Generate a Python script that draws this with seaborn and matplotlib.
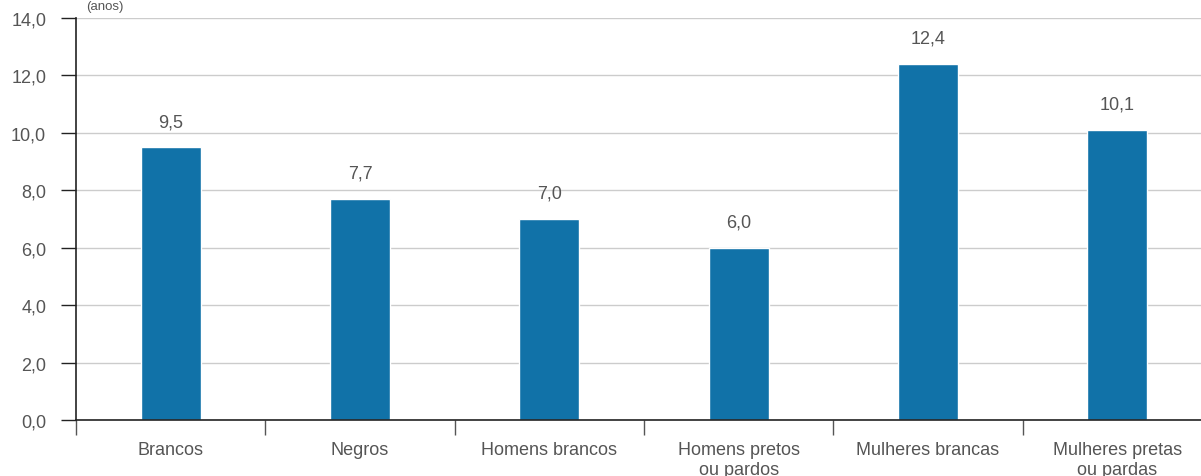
import matplotlib
matplotlib.use("Agg")
import matplotlib.pyplot as plt
from matplotlib.ticker import FixedLocator
import seaborn as sns
import pandas as pd

categorias = ["Brancos", "Negros", "Homens brancos", "Homens pretos\nou pardos",
              "Mulheres brancas", "Mulheres pretas\nou pardas"]
anos = [9.5, 7.7, 7.0, 6.0, 12.4, 10.1]
rotulos = ["9,5", "7,7", "7,0", "6,0", "12,4", "10,1"]
y_ticks = [0, 2, 4, 6, 8, 10, 12, 14]
y_tick_labels = ["0,0", "2,0", "4,0", "6,0", "8,0", "10,0", "12,0", "14,0"]

sns.set_style("white")
plt.rcParams["font.family"] = ["Liberation Sans", "DejaVu Sans"]

texto = "#555555"
azul = "#1172a8"
fs = 13

fig = plt.figure(figsize=(12.01, 4.77), dpi=100)
ax = fig.add_axes([76 / 1201, 56 / 477, 1136 / 1201, 402 / 477])

df = pd.DataFrame({"categoria": categorias, "anos": anos})
sns.barplot(data=df, x="categoria", y="anos", color=azul, saturation=1,
            width=0.317, ax=ax)

ax.set_xlim(-0.5, len(categorias) - 0.5)
ax.set_ylim(0, 14)
ax.set_yticks(y_ticks)
ax.set_yticklabels(y_tick_labels)
ax.set_xlabel("")
ax.set_ylabel("")

ax.yaxis.grid(True, color="#cccccc", linewidth=1)
ax.set_axisbelow(True)

for s in ["top", "right"]:
    ax.spines[s].set_visible(False)
for s in ["left", "bottom"]:
    ax.spines[s].set_color("#222222")
    ax.spines[s].set_linewidth(1.2)

ax.tick_params(axis="y", direction="out", length=10.5, width=1, color="#222222",
               labelsize=fs, labelcolor=texto, pad=11, left=True)
ax.tick_params(axis="x", which="major", length=0, pad=15, labelsize=fs,
               labelcolor=texto)
ax.xaxis.set_minor_locator(FixedLocator([i - 0.5 for i in range(len(categorias) + 1)]))
ax.tick_params(axis="x", which="minor", direction="out", length=10.5, width=1,
               color="#555555", bottom=True)
for lbl in ax.get_xticklabels():
    lbl.set_verticalalignment("top")
    lbl.set_linespacing(1.25)

for i, (v, r) in enumerate(zip(anos, rotulos)):
    ax.annotate(r, (i, v), xytext=(0, 18.5), textcoords="offset points",
                ha="center", va="center", fontsize=fs, color=texto)

# unit note above the y axis
fig.text(105 / 1201, 1 - 1 / 477, "(anos)", ha="center", va="top",
         fontsize=9.5, color=texto)

fig.savefig("out.png", dpi=100)
